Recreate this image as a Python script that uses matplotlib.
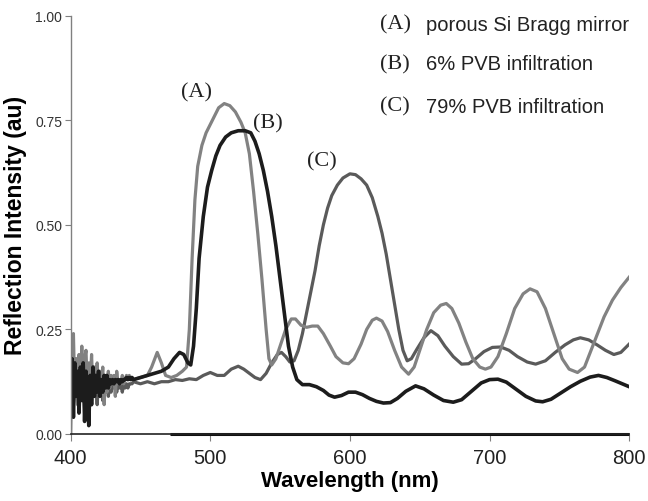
import numpy as np
import matplotlib.pyplot as plt

# noisy start of the spectra, 1 nm steps
noise_wl = list(range(400, 445))
a_noise = [0.00, 0.16, 0.24, 0.09, 0.18, 0.07, 0.19, 0.10, 0.21, 0.08,
           0.18, 0.20, 0.10, 0.17, 0.12, 0.19, 0.09, 0.16, 0.11, 0.17,
           0.10, 0.15, 0.11, 0.16, 0.07, 0.14, 0.10, 0.15, 0.11, 0.14,
           0.12, 0.14, 0.09, 0.15, 0.12, 0.13, 0.12, 0.14, 0.12, 0.13,
           0.14, 0.13, 0.14, 0.135, 0.13]
b_noise = [0.06, 0.18, 0.04, 0.17, 0.09, 0.15, 0.05, 0.16, 0.08, 0.17,
           0.03, 0.15, 0.10, 0.02, 0.14, 0.07, 0.16, 0.09, 0.14, 0.10,
           0.15, 0.09, 0.13, 0.10, 0.14, 0.11, 0.14, 0.11, 0.13, 0.12,
           0.13, 0.12, 0.13, 0.125, 0.13, 0.12, 0.13, 0.125, 0.13, 0.13,
           0.135, 0.13, 0.135, 0.13, 0.135]
c_noise = [0.10, 0.14, 0.07, 0.15, 0.11, 0.18, 0.08, 0.13, 0.10, 0.17,
           0.06, 0.12, 0.15, 0.09, 0.13, 0.08, 0.14, 0.10, 0.12, 0.07,
           0.13, 0.10, 0.12, 0.08, 0.12, 0.10, 0.12, 0.09, 0.12, 0.10,
           0.12, 0.11, 0.12, 0.10, 0.12, 0.11, 0.12, 0.10, 0.12, 0.11,
           0.12, 0.11, 0.12, 0.12, 0.12]

# (A) porous Si Bragg mirror
a_wl = [445, 450, 455, 458, 462, 465, 468, 472, 476, 480, 483, 485, 487, 489,
        491, 494, 497, 500, 503, 506, 510, 514, 518, 522, 525, 528, 531, 534,
        537, 540, 542, 544, 547, 550, 554, 558, 561, 565, 569, 573, 577, 581,
        586, 590, 595, 599, 603, 608, 612, 616, 619, 623, 627, 632, 637, 642,
        646, 650, 655, 660, 665, 669, 673, 678, 683, 688, 693, 697, 701, 706,
        712, 718, 724, 729, 734, 740, 746, 752, 757, 763, 768, 775, 782, 788,
        794, 800]
a_val = [0.13, 0.135, 0.14, 0.16, 0.195, 0.17, 0.14, 0.135, 0.14, 0.15, 0.16,
         0.25, 0.42, 0.56, 0.64, 0.69, 0.72, 0.74, 0.76, 0.78, 0.79, 0.785,
         0.77, 0.745, 0.72, 0.67, 0.58, 0.48, 0.37, 0.25, 0.18, 0.165, 0.18,
         0.21, 0.25, 0.275, 0.275, 0.26, 0.255, 0.258, 0.258, 0.24, 0.21,
         0.185, 0.17, 0.168, 0.18, 0.215, 0.25, 0.272, 0.277, 0.27, 0.245,
         0.20, 0.16, 0.143, 0.16, 0.20, 0.25, 0.29, 0.308, 0.312, 0.30, 0.265,
         0.22, 0.18, 0.16, 0.155, 0.16, 0.185, 0.24, 0.30, 0.335, 0.347, 0.34,
         0.30, 0.24, 0.18, 0.155, 0.147, 0.16, 0.22, 0.28, 0.32, 0.35, 0.375]

# (B) 6% PVB infiltration
b_wl = [445, 450, 455, 460, 465, 470, 474, 478, 481, 484, 486, 488, 490, 492,
        495, 498, 501, 504, 507, 511, 515, 520, 525, 529, 532, 535, 538, 541,
        544, 547, 550, 553, 556, 559, 562, 566, 571, 576, 581, 585, 589, 594,
        599, 604, 609, 614, 619, 624, 629, 634, 640, 647, 653, 660, 667, 674,
        680, 687, 694, 700, 706, 712, 719, 726, 733, 738, 744, 751, 758, 765,
        772, 778, 784, 790, 795, 800]
b_val = [0.13, 0.135, 0.14, 0.145, 0.15, 0.16, 0.18, 0.195, 0.19, 0.17, 0.165,
         0.21, 0.30, 0.42, 0.52, 0.59, 0.63, 0.665, 0.69, 0.71, 0.72, 0.725,
         0.725, 0.72, 0.70, 0.67, 0.63, 0.58, 0.52, 0.45, 0.37, 0.29, 0.21,
         0.16, 0.13, 0.118, 0.118, 0.113, 0.104, 0.093, 0.088, 0.092, 0.10,
         0.10, 0.094, 0.085, 0.078, 0.074, 0.075, 0.085, 0.102, 0.115, 0.108,
         0.093, 0.08, 0.076, 0.082, 0.102, 0.122, 0.13, 0.131, 0.124, 0.107,
         0.09, 0.079, 0.077, 0.083, 0.098, 0.113, 0.126, 0.136, 0.14, 0.135,
         0.127, 0.12, 0.113]

# (C) 79% PVB infiltration
c_wl = [445, 450, 455, 460, 465, 470, 475, 480, 485, 490, 495, 500, 505, 510,
        515, 520, 524, 528, 532, 536, 540, 544, 548, 551, 554, 557, 560, 563,
        566, 569, 572, 575, 578, 581, 584, 587, 591, 595, 600, 604, 608, 612,
        616, 620, 623, 626, 629, 632, 635, 638, 641, 644, 648, 653, 658, 663,
        668, 674, 680, 685, 690, 696, 702, 708, 714, 720, 727, 733, 740, 747,
        754, 760, 765, 771, 777, 783, 789, 794, 800]
c_val = [0.125, 0.12, 0.125, 0.12, 0.125, 0.125, 0.13, 0.128, 0.132, 0.13,
         0.14, 0.147, 0.14, 0.14, 0.155, 0.162, 0.155, 0.145, 0.135, 0.13,
         0.145, 0.17, 0.19, 0.195, 0.185, 0.172, 0.175, 0.20, 0.24, 0.29,
         0.34, 0.39, 0.45, 0.50, 0.54, 0.57, 0.595, 0.612, 0.622, 0.62, 0.61,
         0.595, 0.565, 0.52, 0.48, 0.43, 0.37, 0.31, 0.25, 0.20, 0.175, 0.18,
         0.203, 0.23, 0.247, 0.235, 0.21, 0.185, 0.167, 0.168, 0.18, 0.197,
         0.207, 0.208, 0.20, 0.185, 0.172, 0.167, 0.175, 0.195, 0.213, 0.225,
         0.23, 0.225, 0.213, 0.20, 0.19, 0.195, 0.215]

# flat trace sitting on the axis
zero_wl = [471, 800]
zero_val = [0.0, 0.0]

legend_keys = ["(A)", "(B)", "(C)"]
legend_texts = ["porous Si Bragg mirror", "6% PVB infiltration", "79% PVB infiltration"]

fig = plt.figure(figsize=(6.48, 5.02), dpi=100)
ax = fig.add_axes([0.109, 0.1335, 0.862, 0.8332])

ax.plot(noise_wl + c_wl, c_noise + c_val, color="#5a5a5a", lw=2.3)
ax.plot(noise_wl + a_wl, a_noise + a_val, color="#828282", lw=2.3)
ax.plot(noise_wl + b_wl, b_noise + b_val, color="#1c1c1c", lw=2.6)
ax.plot(zero_wl, zero_val, color="#111111", lw=2.2, clip_on=False, solid_capstyle="butt")

ax.set_xlim(400, 800)
ax.set_ylim(0, 1.0)
ax.set_xticks([400, 500, 600, 700, 800])
ax.set_yticks([0, 0.25, 0.5, 0.75, 1.0])
ax.set_yticklabels(["0.00", "0.25", "0.50", "0.75", "1.00"])

for s in ["top", "right"]:
    ax.spines[s].set_visible(False)
ax.spines["left"].set_color("#808080")
ax.spines["bottom"].set_color("#222222")
ax.spines["left"].set_linewidth(1.0)
ax.spines["bottom"].set_linewidth(1.2)

ax.tick_params(axis="y", direction="out", length=4, width=0.8, color="#808080",
               labelsize=10, labelcolor="#333333", pad=2)
ax.tick_params(axis="x", direction="out", length=5, width=0.8, color="#808080",
               labelsize=14.5, labelcolor="#222222", pad=5)
for lab in ax.get_xticklabels() + ax.get_yticklabels():
    lab.set_family("Liberation Sans")

ax.set_xlabel("Wavelength (nm)", family="Liberation Sans", fontsize=16,
              fontweight="bold", labelpad=2)
ax.set_ylabel("Reflection Intensity (au)", family="Liberation Sans", fontsize=16.5,
              fontweight="bold", labelpad=6)

serif = "Liberation Serif"
ax.text(489.8, 0.817, "(A)", family=serif, fontsize=16, ha="center", va="center", color="#222222")
ax.text(541.4, 0.745, "(B)", family=serif, fontsize=16, ha="center", va="center", color="#222222")
ax.text(580.2, 0.653, "(C)", family=serif, fontsize=16, ha="center", va="center", color="#222222")

rows = [0.980, 0.885, 0.784]
for key, txt, yv in zip(legend_keys, legend_texts, rows):
    ax.text(621.3, yv, key, family=serif, fontsize=16, ha="left", va="center", color="#222222")
    ax.text(654.3, yv, txt, family="Liberation Sans", fontsize=14.5, ha="left",
            va="center", color="#222222")

fig.savefig("out.png", dpi=100)
